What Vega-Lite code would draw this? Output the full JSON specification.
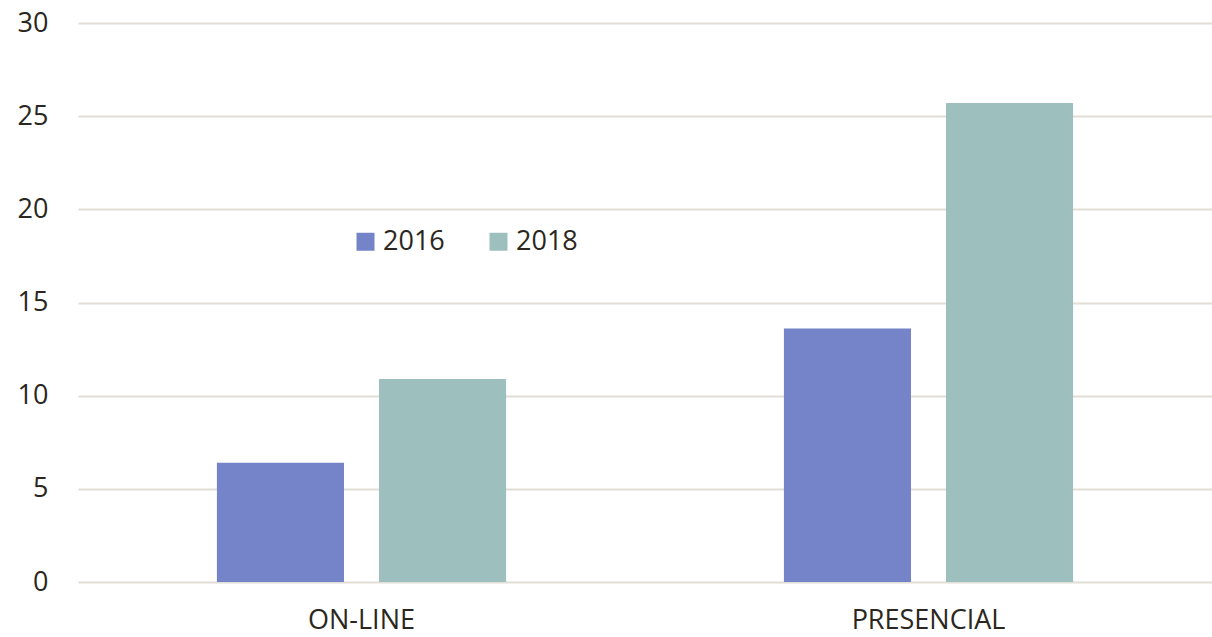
{
  "$schema": "https://vega.github.io/schema/vega-lite/v6.json",
  "width": 1134,
  "height": 559,
  "autosize": "none",
  "padding": {"left": 78, "top": 23, "right": 0, "bottom": 55},
  "background": "white",
  "config": {
    "view": {"stroke": null},
    "font": "Open Sans"
  },
  "data": {
    "values": [
      {"modo": "ON-LINE", "ano": "2016", "valor": 6.4},
      {"modo": "ON-LINE", "ano": "2018", "valor": 10.9},
      {"modo": "PRESENCIAL", "ano": "2016", "valor": 13.6},
      {"modo": "PRESENCIAL", "ano": "2018", "valor": 25.7}
    ]
  },
  "mark": {"type": "bar"},
  "encoding": {
    "x": {
      "field": "modo",
      "type": "nominal",
      "sort": null,
      "scale": {"paddingInner": 0.49, "paddingOuter": 0.245},
      "axis": {
        "title": null,
        "labelAngle": 0,
        "labelFontSize": 27,
        "labelColor": "#2b2720",
        "labelPadding": 25,
        "ticks": false,
        "domain": false,
        "labelFont": "Open Sans"
      }
    },
    "xOffset": {
      "field": "ano",
      "type": "nominal",
      "scale": {"paddingInner": 0.216, "paddingOuter": 0}
    },
    "y": {
      "field": "valor",
      "type": "quantitative",
      "scale": {"domain": [0, 30], "nice": false},
      "axis": {
        "title": null,
        "values": [0, 5, 10, 15, 20, 25, 30],
        "labelFontSize": 27,
        "labelColor": "#2b2720",
        "labelPadding": 30,
        "ticks": false,
        "domain": false,
        "gridColor": "#e2ded6",
        "gridWidth": 2,
        "labelFont": "Open Sans"
      }
    },
    "color": {
      "field": "ano",
      "type": "nominal",
      "scale": {"domain": ["2016", "2018"], "range": ["#7584c8", "#9dbfbe"]},
      "legend": {
        "title": null,
        "orient": "none",
        "direction": "horizontal",
        "legendX": 274,
        "legendY": 205,
        "symbolType": "square",
        "symbolSize": 324,
        "symbolStrokeWidth": 0,
        "labelFontSize": 27,
        "labelColor": "#2b2720",
        "labelOffset": 4,
        "columnPadding": 40,
        "labelFont": "Open Sans"
      }
    }
  }
}
